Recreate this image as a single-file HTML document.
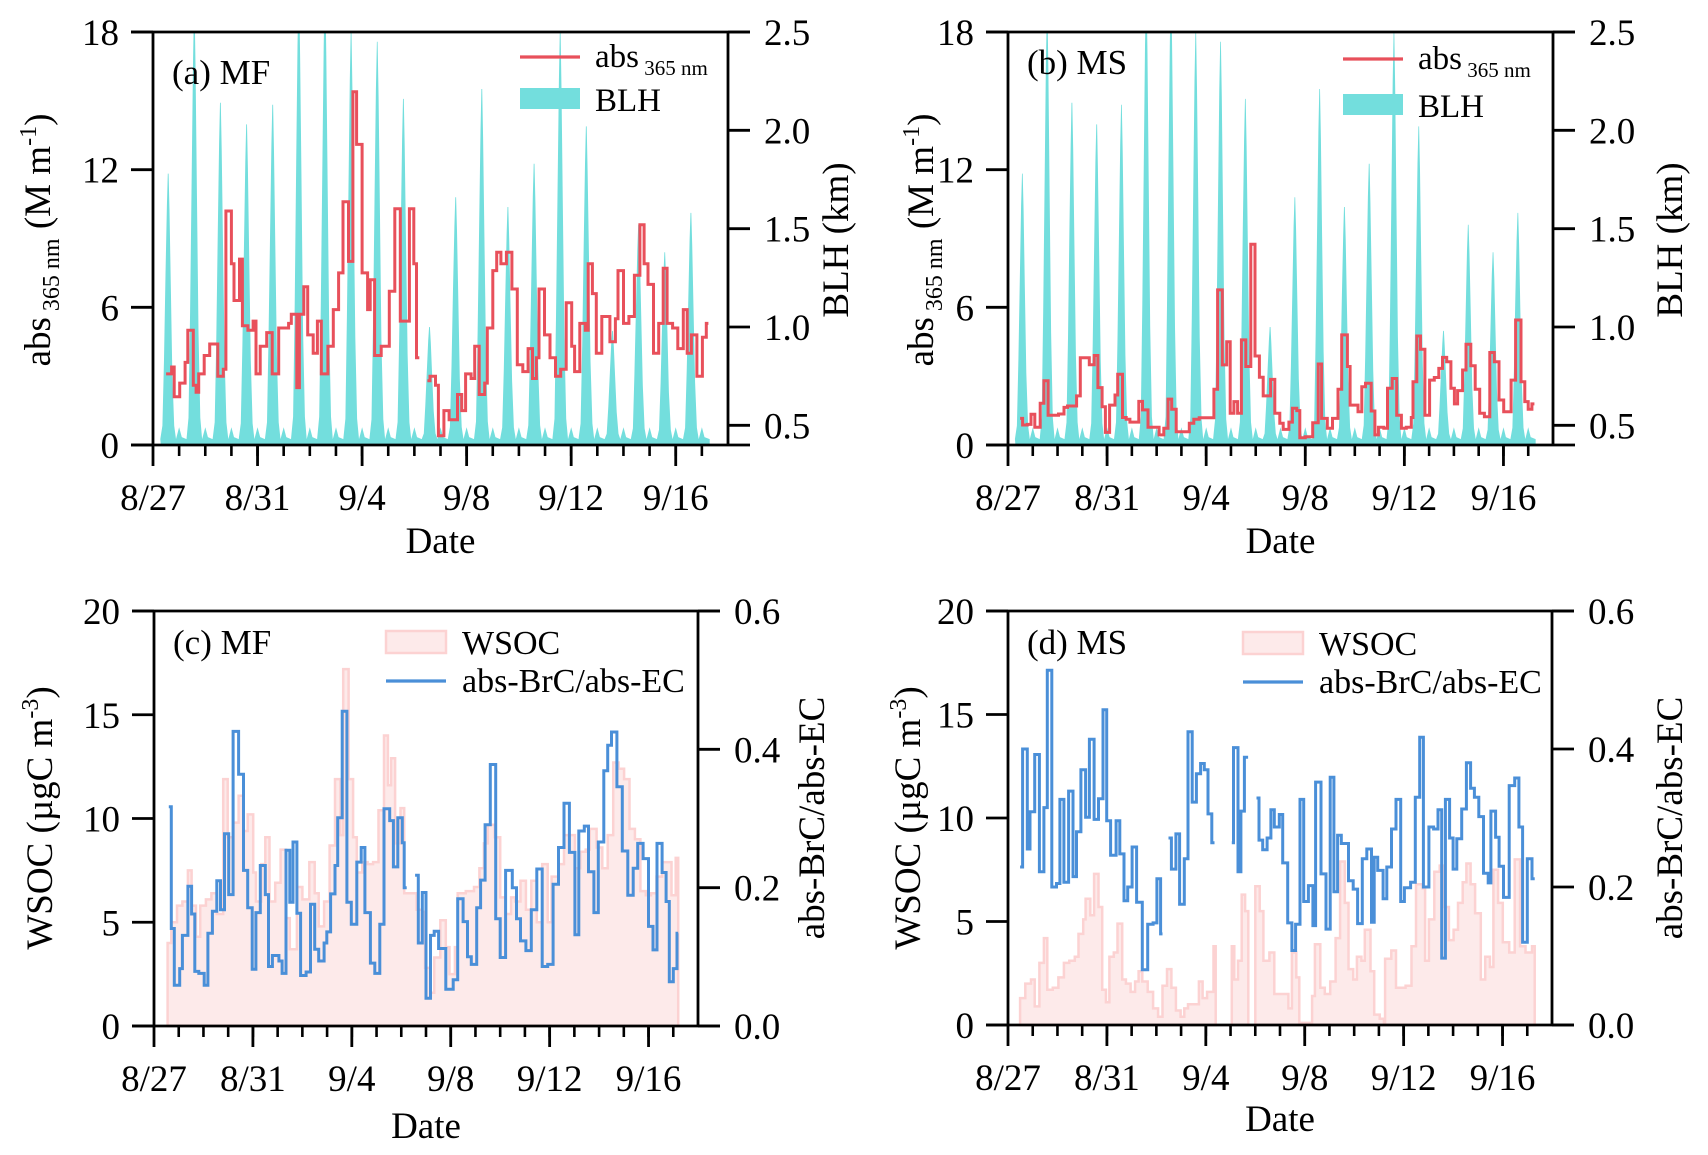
<!DOCTYPE html>
<html><head><meta charset="utf-8"><style>
html,body{margin:0;padding:0;background:#fff}
svg{display:block}
text{font-family:"Liberation Serif","Times New Roman",serif;fill:#000}
</style></head><body>
<svg id="fig" width="1708" height="1155" viewBox="0 0 1708 1155" xmlns="http://www.w3.org/2000/svg">
<defs>
<clipPath id="clipA"><rect x="153" y="32" width="575" height="413"/></clipPath>
<clipPath id="clipB"><rect x="1008" y="32" width="545" height="413"/></clipPath>
</defs>
<g id="layer"></g>
</svg>
<script>
// ---------- data ----------
const dateTickLabels = ["8/27","8/31","9/4","9/8","9/12","9/16"];
const dateTickDays = [0,4,8,12,16,20];
const blhPeaks = [1.78,2.6,2.14,2.03,2.13,2.7,2.7,2.5,2.45,2.16,1.0,1.66,2.21,1.61,1.83,2.5,2.02,0.98,1.52,1.38,1.58];
const absTicksA = [0,6,12,18];
const blhTicks = [0.5,1.0,1.5,2.0,2.5];
const wsocTicks = [0,5,10,15,20];
const ratioTicks = [0.0,0.2,0.4,0.6];

const absA_t = [0.5,0.71,0.81,1.02,1.23,1.33,1.54,1.65,1.75,1.96,2.17,2.48,2.69,2.79,3.0,3.1,3.31,3.42,3.63,3.83,3.94,4.1,4.35,4.56,4.81,4.98,5.19,5.29,5.5,5.6,5.77,5.92,6.13,6.29,6.44,6.69,6.9,7.1,7.27,7.48,7.65,7.79,8.0,8.21,8.31,8.48,8.73,9.04,9.25,9.46,9.67,9.81,9.98,10.08,10.19,10.5,10.6,10.81,10.92,11.13,11.33,11.65,11.81,11.96,12.17,12.31,12.48,12.69,12.79,13.0,13.15,13.31,13.52,13.73,13.94,14.15,14.35,14.52,14.67,14.77,14.98,15.19,15.4,15.6,15.81,16.02,16.13,16.33,16.54,16.65,16.81,16.96,17.17,17.38,17.48,17.69,17.79,18.0,18.21,18.42,18.63,18.79,18.94,19.15,19.35,19.52,19.67,19.88,20.08,20.29,20.44,20.6,20.81,21.02,21.17];
const absA_v = [3.1,3.4,2.1,2.7,3.6,5.0,2.6,2.3,3.1,3.9,4.4,3.0,3.3,10.2,7.9,6.3,8.1,5.2,5.0,5.4,3.1,4.3,4.9,3.1,5.1,5.1,5.3,5.7,2.5,5.7,6.9,4.8,4.0,5.4,3.1,4.3,5.9,7.5,10.6,8.0,15.4,13.1,7.5,5.9,7.2,3.9,4.3,6.7,10.3,5.4,5.4,10.3,7.9,3.8,null,2.8,3.0,2.6,0.4,1.5,1.1,2.2,1.5,3.1,2.9,4.3,2.2,2.7,5.1,7.6,8.4,7.9,8.4,6.8,3.5,3.2,4.2,2.9,3.8,6.8,4.8,3.8,3.0,3.3,6.2,4.3,3.2,5.3,5.0,7.9,6.6,4.0,5.6,5.6,4.5,5.5,7.6,5.3,5.6,7.4,9.6,7.9,7.0,4.0,5.3,7.7,5.3,5.1,4.2,5.9,4.0,4.8,3.0,4.7,5.3];
const absA_end = 21.25;

const absB_t = [0.49,0.59,0.78,0.93,1.08,1.3,1.45,1.62,2.04,2.26,2.4,2.77,2.92,3.28,3.48,3.63,3.8,3.93,4.1,4.32,4.43,4.62,4.77,4.92,5.28,5.43,5.65,6.1,6.29,6.46,6.61,6.79,7.32,7.5,7.72,8.31,8.46,8.65,8.83,8.97,9.12,9.27,9.42,9.6,9.8,9.97,10.15,10.3,10.6,10.77,10.97,11.11,11.34,11.48,11.66,11.78,12.0,12.3,12.52,12.66,12.89,13.1,13.32,13.47,13.7,13.81,14.13,14.28,14.43,14.66,14.81,14.95,15.17,15.32,15.51,15.69,15.88,16.08,16.28,16.35,16.5,16.65,16.83,17.02,17.21,17.39,17.54,17.71,17.88,18.02,18.15,18.35,18.49,18.68,18.86,19.04,19.23,19.45,19.63,19.82,20.01,20.31,20.49,20.71,20.86,21.0,21.15];
const absB_v = [1.16,0.87,0.9,1.34,0.77,1.82,2.8,1.3,1.35,1.64,1.7,2.14,3.8,3.5,3.9,2.5,1.67,0.55,1.74,2.18,3.08,1.2,1.12,1.0,1.9,1.53,0.77,0.44,0.73,2.0,1.56,0.58,0.95,1.12,1.19,2.43,6.76,3.49,4.5,1.38,1.89,1.38,4.58,3.42,8.75,3.88,2.95,2.14,2.86,1.38,0.95,0.68,1.0,1.6,1.5,0.32,0.36,0.97,3.53,1.16,0.73,1.16,2.43,4.8,3.42,1.74,1.45,2.54,2.69,1.48,0.44,0.77,0.73,2.47,2.9,1.3,0.73,0.77,1.2,2.76,4.75,4.17,1.3,2.83,2.94,3.34,3.82,3.63,2.47,1.79,2.37,3.27,4.39,3.45,2.43,1.38,1.23,4.03,3.63,1.96,1.45,2.83,5.45,2.76,1.89,1.56,1.79];
const absB_end = 21.25;

const ratioC_t = [0.6,0.7,0.82,1.04,1.15,1.37,1.52,1.65,1.81,2.03,2.18,2.36,2.54,2.69,2.85,3.02,3.2,3.42,3.62,3.79,3.97,4.12,4.3,4.5,4.63,4.79,5.05,5.18,5.34,5.49,5.62,5.78,5.93,6.15,6.33,6.5,6.66,6.88,6.99,7.14,7.32,7.43,7.61,7.8,7.98,8.2,8.38,8.53,8.75,8.93,9.13,9.3,9.53,9.68,9.86,10.04,10.12,10.22,10.56,10.69,10.85,11.0,11.18,11.33,11.51,11.8,12.1,12.28,12.5,12.68,12.83,13.05,13.21,13.39,13.6,13.82,14.0,14.22,14.49,14.66,14.82,15.04,15.26,15.48,15.7,15.92,16.14,16.36,16.58,16.8,17.02,17.18,17.4,17.57,17.79,17.97,18.19,18.35,18.5,18.72,18.94,19.16,19.38,19.56,19.78,20.0,20.18,20.34,20.55,20.71,20.84,21.0,21.15];
const ratioC_v = [0.317,0.141,0.059,0.083,0.131,0.202,0.162,0.079,0.076,0.059,0.134,0.166,0.21,0.168,0.278,0.19,0.426,0.364,0.225,0.171,0.082,0.164,0.232,0.19,0.086,0.102,0.094,0.076,0.254,0.179,0.266,0.163,0.073,0.078,0.176,0.111,0.094,0.12,0.136,0.191,0.232,0.301,0.455,0.179,0.147,0.237,0.258,0.164,0.091,0.076,0.147,0.314,0.297,0.23,0.301,0.265,0.2,null,0.218,0.12,0.193,0.04,0.131,0.137,0.112,0.053,0.067,0.184,0.151,0.1,0.089,0.171,0.211,0.291,0.378,0.155,0.099,0.225,0.2,0.155,0.123,0.109,0.168,0.227,0.086,0.089,0.205,0.258,0.322,0.251,0.132,0.282,0.289,0.223,0.164,0.266,0.369,0.406,0.425,0.346,0.253,0.189,0.228,0.264,0.242,0.144,0.11,0.264,0.222,0.18,0.064,0.083,0.134];
const ratioC_end = 21.2;

const wsocC_t = [0.55,0.7,0.93,1.15,1.37,1.52,1.7,1.87,2.1,2.32,2.54,2.8,2.98,3.2,3.42,3.62,3.79,4.01,4.12,4.34,4.5,4.67,4.9,5.12,5.34,5.49,5.78,6.0,6.28,6.5,6.66,6.88,7.1,7.32,7.54,7.65,7.87,8.05,8.2,8.42,8.64,8.86,9.08,9.3,9.46,9.59,9.75,9.97,10.12,10.62,10.85,10.96,11.18,11.33,11.58,11.8,11.95,12.17,12.28,12.61,12.94,13.16,13.34,13.5,13.78,14.0,14.22,14.44,14.6,14.82,15.04,15.26,15.48,15.7,15.92,16.08,16.36,16.58,17.02,17.24,17.46,17.62,17.9,18.13,18.35,18.57,18.79,19.01,19.23,19.45,19.67,19.89,20.1,20.32,20.55,20.93,21.1];
const wsocC_v = [4.0,5.0,5.8,6.0,7.5,5.8,4.3,5.8,6.1,6.4,5.4,11.9,9.1,9.8,11.1,9.4,10.2,7.4,6.0,7.8,9.1,6.0,6.9,8.5,5.2,3.7,6.7,6.1,7.9,6.4,4.8,6.0,8.7,11.9,9.2,17.2,11.9,9.1,7.4,7.9,7.8,7.9,10.4,14.0,11.6,12.9,8.8,10.5,6.4,5.6,5.5,2.8,1.6,3.3,5.1,3.8,2.5,3.8,6.4,6.5,6.7,7.6,8.8,9.7,9.1,6.2,5.4,6.2,6.0,7.0,5.6,7.0,5.0,7.8,5.0,7.2,7.8,9.2,7.6,8.4,8.5,9.5,8.6,7.6,9.2,12.7,12.4,11.9,9.5,9.0,6.5,6.3,6.4,7.2,7.9,6.3,8.1];
const wsocC_end = 21.2;

const ratioD_t = [0.49,0.59,0.78,0.89,1.08,1.27,1.45,1.59,1.77,1.96,2.1,2.26,2.45,2.63,2.77,2.95,3.14,3.29,3.48,3.66,3.84,3.99,4.15,4.37,4.52,4.69,4.84,5.02,5.2,5.43,5.65,5.87,6.02,6.17,6.25,6.49,6.61,6.79,6.94,7.13,7.28,7.45,7.62,7.79,7.94,8.09,8.24,8.35,9.05,9.12,9.3,9.42,9.56,9.71,10.05,10.15,10.3,10.48,10.63,10.77,10.97,11.11,11.31,11.48,11.63,11.81,11.96,12.15,12.33,12.44,12.66,12.86,13.03,13.18,13.33,13.48,13.77,13.96,14.14,14.33,14.51,14.7,14.81,14.95,15.17,15.32,15.51,15.69,15.88,16.03,16.28,16.47,16.65,16.8,17.02,17.21,17.39,17.54,17.69,17.86,18.0,18.15,18.35,18.54,18.71,18.86,19.04,19.23,19.42,19.53,19.72,19.86,20.04,20.27,20.49,20.66,20.81,21.0,21.19];
const ratioD_v = [0.229,0.40,0.255,0.309,0.392,0.222,0.315,0.514,0.2,0.205,0.327,0.207,0.339,0.215,0.28,0.37,0.301,0.414,0.298,0.328,0.457,0.296,0.246,0.296,0.248,0.18,0.2,0.258,0.178,0.08,0.146,0.148,0.212,0.132,null,0.271,0.226,0.277,0.175,0.241,0.425,0.323,0.364,0.379,0.37,0.306,0.264,null,0.264,0.402,0.222,0.31,0.388,null,0.329,0.268,0.254,0.271,0.312,0.287,0.305,0.235,0.148,0.108,0.146,0.327,0.179,0.202,0.144,0.352,0.219,0.139,0.359,0.193,0.275,0.263,0.209,0.197,0.147,0.241,0.255,0.149,0.243,0.224,0.183,0.229,0.284,0.327,0.179,0.199,0.207,0.33,0.417,0.2,0.287,0.284,0.312,0.097,0.327,0.271,0.226,0.27,0.313,0.38,0.343,0.33,0.302,0.22,0.206,0.31,0.272,0.23,0.185,0.347,0.358,0.287,0.12,0.241,0.212];
const ratioD_end = 21.3;

const wsocD_t = [0.49,0.7,0.93,1.08,1.27,1.45,1.59,1.81,2.04,2.26,2.48,2.7,2.85,3.04,3.14,3.33,3.48,3.66,3.81,3.96,4.1,4.28,4.43,4.62,4.77,4.96,5.14,5.28,5.43,5.65,5.87,6.07,6.25,6.43,6.61,6.79,6.98,7.13,7.28,7.5,7.72,7.87,8.05,8.31,8.4,9.05,9.15,9.3,9.45,9.59,9.72,10.0,10.18,10.33,10.57,10.77,11.11,11.34,11.48,11.66,11.78,12.3,12.41,12.63,12.81,13.03,13.25,13.43,13.62,13.77,13.96,14.11,14.29,14.43,14.66,14.81,15.03,15.2,15.25,15.5,15.69,16.08,16.32,16.5,16.77,16.87,17.02,17.24,17.46,17.65,17.83,18.02,18.2,18.39,18.54,18.71,18.89,19.12,19.3,19.49,19.63,19.82,20.01,20.27,20.49,20.71,20.93,21.19];
const wsocD_v = [1.3,2.0,2.2,0.9,3.0,4.2,1.7,1.8,2.3,3.0,3.1,3.3,4.4,5.1,6.1,5.3,7.3,5.7,1.7,1.1,3.3,3.5,4.9,2.2,2.0,1.6,2.1,2.6,2.1,1.6,0.8,0.4,1.9,2.7,1.8,0.7,0.4,0.8,1.0,1.0,2.1,1.3,1.6,3.8,null,3.8,2.2,3.1,6.3,5.5,null,6.7,5.5,3.1,3.5,1.5,1.5,0.8,3.5,2.3,0.1,1.4,3.9,1.8,1.5,2.1,4.2,7.9,5.9,2.7,2.2,3.3,3.1,4.6,2.6,0.5,0.3,null,3.2,3.6,1.8,1.9,3.8,6.8,6.6,3.1,5.1,7.4,7.7,5.7,4.1,4.6,5.9,6.9,7.8,6.8,5.4,2.2,3.3,2.8,7.5,5.9,4.0,3.5,8.0,3.8,3.5,3.8];
const wsocD_end = 21.3;

// ---------- drawing ----------
const NS = "http://www.w3.org/2000/svg";
const layer = document.getElementById('layer');
function mk(tag, attrs, parent) {
  const e = document.createElementNS(NS, tag);
  for (const k in attrs) e.setAttribute(k, attrs[k]);
  (parent || layer).appendChild(e);
  return e;
}
function scaleX(p) { return t => p.x0 + t / 22 * (p.x1 - p.x0); }
function scaleY(p, lo, hi) { return v => p.y1 - (v - lo) / (hi - lo) * (p.y1 - p.y0); }

function stepSegments(times, vals, end) {
  const segs = []; let cur = [];
  for (let i = 0; i < times.length; i++) {
    const v = vals[i];
    const tn = i + 1 < times.length ? times[i + 1] : end;
    if (v === null) { if (cur.length) segs.push(cur); cur = []; continue; }
    cur.push([times[i], tn, v]);
  }
  if (cur.length) segs.push(cur);
  return segs;
}
function stepPath(segs, X, Y) {
  let d = "";
  segs.forEach(seg => {
    seg.forEach((s, i) => {
      d += (i === 0 ? "M" : "L") + X(s[0]).toFixed(1) + "," + Y(s[2]).toFixed(1) + "L" + X(s[1]).toFixed(1) + "," + Y(s[2]).toFixed(1);
    });
  });
  return d;
}
function fillPath(segs, X, Y, base) {
  let d = "";
  segs.forEach(seg => {
    d += "M" + X(seg[0][0]).toFixed(1) + "," + Y(base).toFixed(1);
    seg.forEach(s => { d += "L" + X(s[0]).toFixed(1) + "," + Y(s[2]).toFixed(1) + "L" + X(s[1]).toFixed(1) + "," + Y(s[2]).toFixed(1); });
    d += "L" + X(seg[seg.length - 1][1]).toFixed(1) + "," + Y(base).toFixed(1) + "Z";
  });
  return d;
}

function drawBLH(p, clip, name) {
  const X = scaleX(p), Yb = scaleY(p, 0.4, 2.5);
  const b = 0.43;
  let d = "M" + X(0.3) + "," + p.y1;
  blhPeaks.forEach((pk, n) => {
    const t = n + 0.58;
    const h = pk - b;
    const pts = [[t - 0.3, b], [t - 0.22, b + 0.05 * h], [t - 0.16, b + 0.3 * h], [t - 0.1, b + 0.62 * h], [t - 0.05, b + 0.88 * h], [t - 0.015, pk], [t + 0.015, pk], [t + 0.05, b + 0.86 * h], [t + 0.1, b + 0.58 * h], [t + 0.16, b + 0.25 * h], [t + 0.23, b + 0.05 * h], [t + 0.3, b], [t + 0.42, b + 0.06], [t + 0.52, b + 0.01]];
    pts.forEach(q => { d += "L" + X(q[0]).toFixed(1) + "," + Yb(q[1]).toFixed(1); });
  });
  d += "L" + X(21.3) + "," + Yb(b) + "L" + X(21.3) + "," + p.y1 + "Z";
  const e = mk('path', { d: d, fill: '#73dedd', 'clip-path': 'url(#' + clip + ')' });
  
  
}

function drawAxes(p, cfg) {
  const g = mk('g', {});
  
  
  const X = scaleX(p);
  mk('path', { d: `M${p.x0},${p.y0}V${p.y1}M${p.x1},${p.y0}V${p.y1}M${p.x0 - 22},${p.y1}H${p.x1 + 22}M${p.x0 - 22},${p.y0}H${p.x1 + 22}`, stroke: '#000', 'stroke-width': 2.8, fill: 'none' }, g);
  const YL = scaleY(p, cfg.lmin, cfg.lmax);
  cfg.lticks.forEach(v => {
    mk('line', { x1: p.x0 - 22, x2: p.x0, y1: YL(v), y2: YL(v), stroke: '#000', 'stroke-width': 2.8 }, g);
    const t = mk('text', { x: p.x0 - 34, y: YL(v) + 13, 'text-anchor': 'end', 'font-size': 37 }, g);
    t.textContent = cfg.lfmt(v);
    
    
  });
  const YR = scaleY(p, cfg.rmin, cfg.rmax);
  cfg.rticks.forEach(v => {
    mk('line', { x1: p.x1, x2: p.x1 + 22, y1: YR(v), y2: YR(v), stroke: '#000', 'stroke-width': 2.8 }, g);
    const t = mk('text', { x: p.x1 + 36, y: YR(v) + 13, 'text-anchor': 'start', 'font-size': 37 }, g);
    t.textContent = v.toFixed(1);
    
    
  });
  for (let dday = 1; dday <= 21; dday++) {
    mk('line', { x1: X(dday), x2: X(dday), y1: p.y1, y2: p.y1 + 11, stroke: '#000', 'stroke-width': 2.6 }, g);
  }
  dateTickDays.forEach((dd, i) => {
    mk('line', { x1: X(dd), x2: X(dd), y1: p.y1, y2: p.y1 + 21, stroke: '#000', 'stroke-width': 2.8 }, g);
    const t = mk('text', { x: X(dd), y: p.y1 + 65, 'text-anchor': 'middle', 'font-size': 37 }, g);
    t.textContent = dateTickLabels[i];
    
    
  });
  const dt = mk('text', { x: (p.x0 + p.x1) / 2, y: p.y1 + cfg.dateDy, 'text-anchor': 'middle', 'font-size': 37 }, g);
  dt.textContent = 'Date';
  
  
  const pl = mk('text', { x: p.x0 + 19, y: cfg.labelY, 'font-size': 35 }, g);
  pl.textContent = cfg.label;
  
  
}

function yTitle(x, y, html, name) {
  const t = mk('text', { x: x, y: y, 'text-anchor': 'middle', 'font-size': 37, transform: `rotate(-90 ${x} ${y})` });
  t.innerHTML = html;
  
  
}

const absTitle = 'abs<tspan font-size="24" dy="9"> 365 nm</tspan><tspan dy="-9"> (M m</tspan><tspan font-size="24" dy="-14">-1</tspan><tspan dy="14">)</tspan>';
const wsocTitle = 'WSOC (µgC m<tspan font-size="24" dy="-14">-3</tspan><tspan dy="14">)</tspan>';

function legendAbs(x, yLine, yRect) {
  const g = mk('g', {});
  
  
  mk('line', { x1: x, x2: x + 60, y1: yLine, y2: yLine, stroke: '#e8505b', 'stroke-width': 3.2 }, g);
  const t1 = mk('text', { x: x + 75, y: yLine + 10, 'font-size': 33 }, g);
  t1.innerHTML = 'abs<tspan font-size="21" dy="8"> 365 nm</tspan>';
  mk('rect', { x: x, y: yRect, width: 60, height: 21, fill: '#73dedd' }, g);
  const t2 = mk('text', { x: x + 75, y: yRect + 23, 'font-size': 33 }, g);
  t2.textContent = 'BLH';
}
function legendWsoc(x, yRect, yLine) {
  const g = mk('g', {});
  
  
  mk('rect', { x: x, y: yRect, width: 60, height: 22, fill: '#fdeaea', stroke: '#fcd2d2', 'stroke-width': 2.5 }, g);
  const t1 = mk('text', { x: x + 76, y: yRect + 23, 'font-size': 34 }, g);
  t1.textContent = 'WSOC';
  mk('line', { x1: x, x2: x + 60, y1: yLine, y2: yLine, stroke: '#4a8fd8', 'stroke-width': 3.2 }, g);
  const t2 = mk('text', { x: x + 76, y: yLine + 11, 'font-size': 34 }, g);
  t2.textContent = 'abs-BrC/abs-EC';
}

// Panel A
const PA = { x0: 153, x1: 728, y0: 32, y1: 445 };
drawBLH(PA, 'clipA', 'blh-area-mf');
(function () {
  const X = scaleX(PA), Y = scaleY(PA, 0, 18);
  const e = mk('path', { d: stepPath(stepSegments(absA_t, absA_v, absA_end), X, Y), fill: 'none', stroke: '#e8505b', 'stroke-width': 3 });
  
  
})();
drawAxes(PA, { name: 'panel-a', lmin: 0, lmax: 18, lticks: absTicksA, lfmt: v => String(v), rmin: 0.4, rmax: 2.5, rticks: blhTicks, dateDy: 108, label: '(a) MF', labelY: 84 });
yTitle(50, 240, absTitle, 'y-axis-title-left');
yTitle(848, 240, 'BLH (km)', 'y-axis-title-right');
legendAbs(520, 57, 88);

// Panel B
const PB = { x0: 1008, x1: 1553, y0: 32, y1: 445 };
drawBLH(PB, 'clipB', 'blh-area-ms');
(function () {
  const X = scaleX(PB), Y = scaleY(PB, 0, 18);
  const e = mk('path', { d: stepPath(stepSegments(absB_t, absB_v, absB_end), X, Y), fill: 'none', stroke: '#e8505b', 'stroke-width': 3 });
  
  
})();
drawAxes(PB, { name: 'panel-b', lmin: 0, lmax: 18, lticks: absTicksA, lfmt: v => String(v), rmin: 0.4, rmax: 2.5, rticks: blhTicks, dateDy: 108, label: '(b) MS', labelY: 74 });
yTitle(933, 240, absTitle, 'y-axis-title-left');
yTitle(1682, 240, 'BLH (km)', 'y-axis-title-right');
legendAbs(1343, 59, 94);

// Panel C
const PC = { x0: 154, x1: 698, y0: 611, y1: 1026 };
(function () {
  const X = scaleX(PC), Yw = scaleY(PC, 0, 20), Yr = scaleY(PC, 0, 0.6);
  const segs = stepSegments(wsocC_t, wsocC_v, wsocC_end);
  const f = mk('path', { d: fillPath(segs, X, Yw, 0), fill: '#fdeaea', stroke: '#fcd2d2', 'stroke-width': 2.5 });
  
  
  const e = mk('path', { d: stepPath(stepSegments(ratioC_t, ratioC_v, ratioC_end), X, Yr), fill: 'none', stroke: '#4a8fd8', 'stroke-width': 3 });
  
  
})();
drawAxes(PC, { name: 'panel-c', lmin: 0, lmax: 20, lticks: wsocTicks, lfmt: v => String(v), rmin: 0, rmax: 0.6, rticks: ratioTicks, dateDy: 112, label: '(c) MF', labelY: 654 });
yTitle(52, 818, wsocTitle, 'y-axis-title-left');
yTitle(824, 818, 'abs-BrC/abs-EC', 'y-axis-title-right');
legendWsoc(386, 631, 681);

// Panel D
const PD = { x0: 1008, x1: 1552, y0: 611, y1: 1025 };
(function () {
  const X = scaleX(PD), Yw = scaleY(PD, 0, 20), Yr = scaleY(PD, 0, 0.6);
  const segs = stepSegments(wsocD_t, wsocD_v, wsocD_end);
  const f = mk('path', { d: fillPath(segs, X, Yw, 0), fill: '#fdeaea', stroke: '#fcd2d2', 'stroke-width': 2.5 });
  
  
  const e = mk('path', { d: stepPath(stepSegments(ratioD_t, ratioD_v, ratioD_end), X, Yr), fill: 'none', stroke: '#4a8fd8', 'stroke-width': 3 });
  
  
})();
drawAxes(PD, { name: 'panel-d', lmin: 0, lmax: 20, lticks: wsocTicks, lfmt: v => String(v), rmin: 0, rmax: 0.6, rticks: ratioTicks, dateDy: 106, label: '(d) MS', labelY: 654 });
yTitle(920, 818, wsocTitle, 'y-axis-title-left');
yTitle(1682, 818, 'abs-BrC/abs-EC', 'y-axis-title-right');
legendWsoc(1243, 632, 682);
</script>
</body></html>
